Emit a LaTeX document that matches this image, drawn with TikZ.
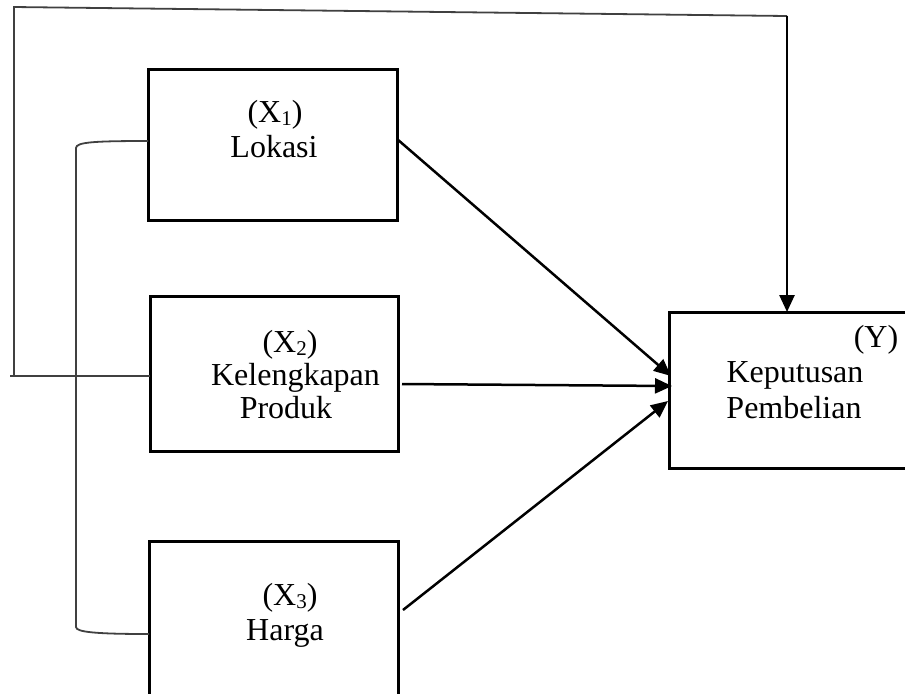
\documentclass[tikz,border=0pt]{standalone}
\usepackage{fontspec}
\setmainfont{Liberation Serif}
\usetikzlibrary{arrows.meta}
\newcommand\mysub[1]{\raisebox{-0.12em}{\fontsize{10.5}{10.5}\selectfont #1}}
\begin{document}
\begin{tikzpicture}[x=0.5pt,y=-0.5pt,
  box/.style={draw=black,line width=1.5pt,inner sep=0pt,outer sep=0pt},
  lbl/.style={anchor=base,inner sep=0pt,font=\fontsize{16}{17.5}\selectfont},
  thinln/.style={draw=black!75,line width=0.9pt},
  arr/.style={draw=black,line width=1.25pt,-{Triangle[length=8.5pt,width=7.5pt]}}]
\clip (0,0) rectangle (905,693);
% boxes
\node[box,minimum width=124.5pt,minimum height=75.5pt] (x1) at (272.5,144.5) {};
\node[box,minimum width=124pt,minimum height=77.5pt] (x2) at (274,373.5) {};
\node[box,minimum width=124.5pt,minimum height=82pt] (x3) at (273.5,623) {};
\node[box,minimum width=123pt,minimum height=78pt] (y) at (792,390) {};
% labels
\node[lbl] (x1a) at (275,122) {(X\mysub{1})};
\node[lbl] (x1b) at (274,157) {Lokasi};
\node[lbl] (x2a) at (290,352) {(X\mysub{2})};
\node[lbl] (x2b) at (295.5,385) {Kelengkapan};
\node[lbl] (x2c) at (286,418) {Produk};
\node[lbl] (x3a) at (290,605) {(X\mysub{3})};
\node[lbl] (x3b) at (285,640) {Harga};
\node[lbl] (ya) at (876,347) {(Y)};
\node[lbl] (yb) at (795,382) {Keputusan};
\node[lbl] (yc) at (794,418) {Pembelian};
% helper coordinates
\coordinate (fbL) at (10,376);
\coordinate (fb0) at (14,376);
\coordinate (fb1) at (14,7);
\coordinate (fb2) at (787,16);
\coordinate (bt) at (0,141);
\coordinate (bb) at (0,634);
\coordinate (a1) at (0,139);
\coordinate (t1) at (671,376);
\coordinate (s2) at (402,384);
\coordinate (t2) at (672,386);
\coordinate (s3) at (403,610);
\coordinate (t3) at (668,401);
% feedback line
\draw[thinln] (x2.west |- fbL) -- (fbL);
\draw[thinln] (fb0) -- (fb1) -- (fb2);
\draw[arr] (fb2) -- (fb2 |- y.north);
% bracket
\draw[thinln] (x1.west |- bt) .. controls (95,141) and (76,142) .. (76,148)
  -- (76,627) .. controls (76,632) and (95,634) .. (x3.west |- bb);
% arrows
\draw[arr] (x1.east |- a1) -- (t1);
\draw[arr] (s2) -- (t2);
\draw[arr] (s3) -- (t3);
\end{tikzpicture}
\end{document}
